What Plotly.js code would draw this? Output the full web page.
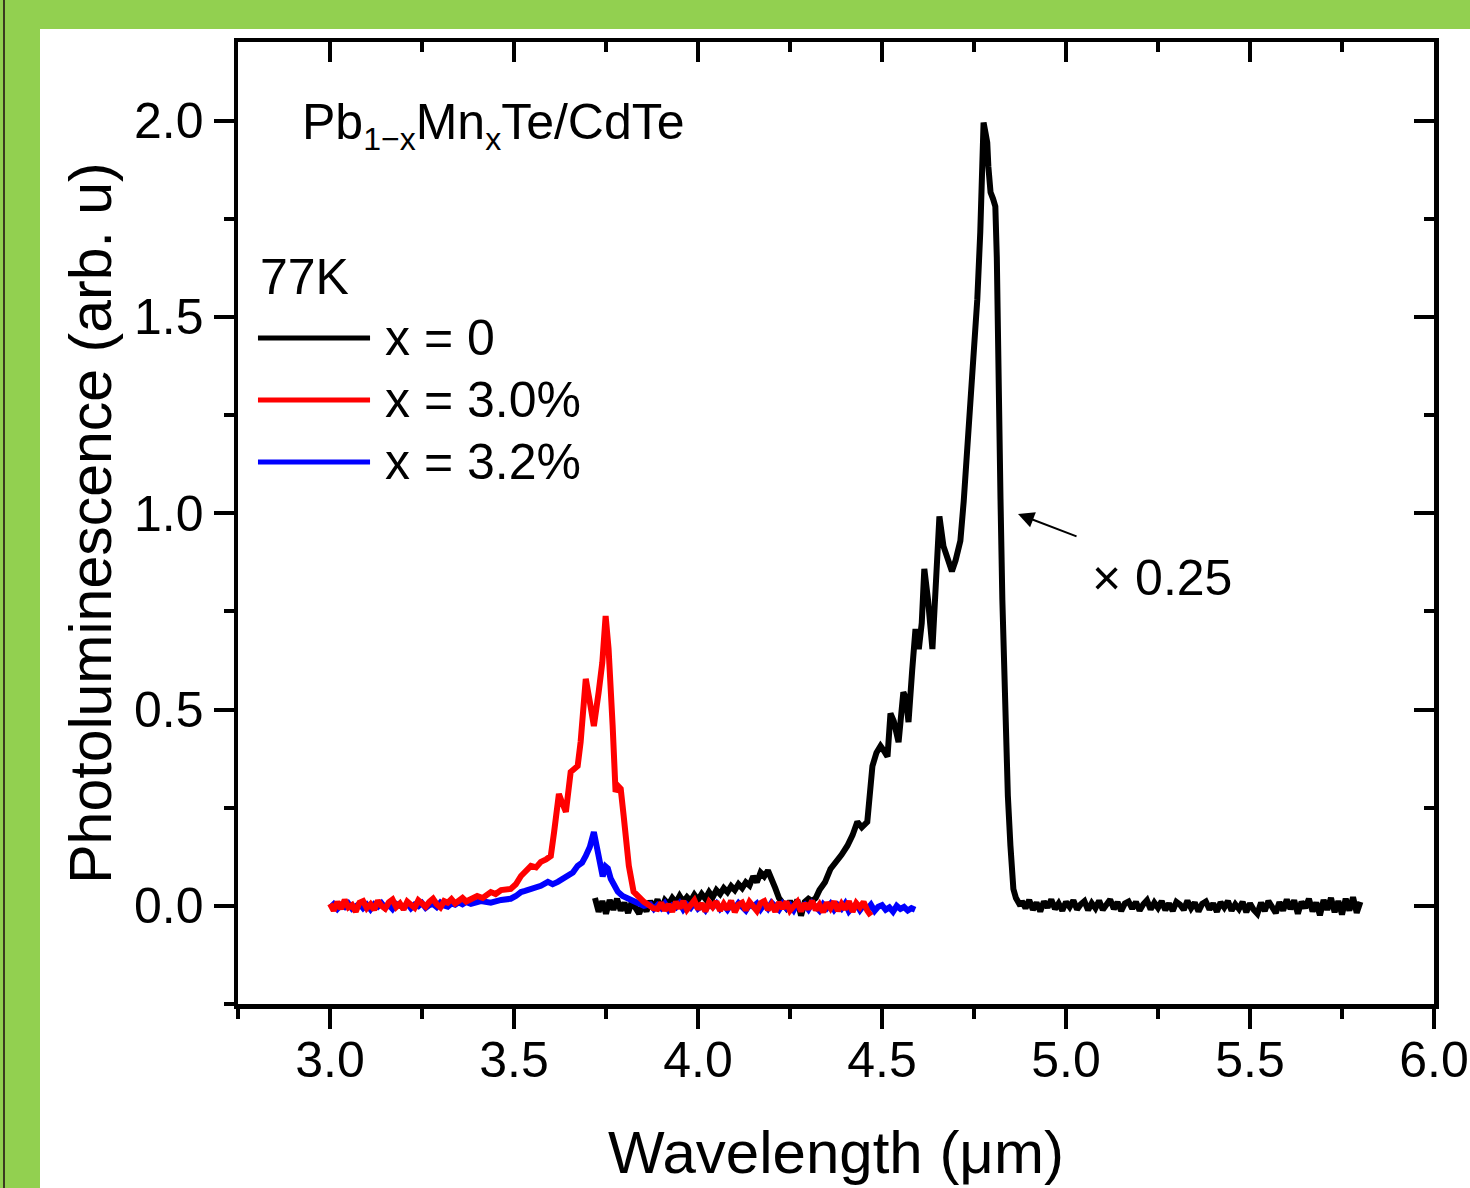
<!DOCTYPE html>
<html>
<head>
<meta charset="utf-8">
<script src="https://cdn.plot.ly/plotly-3.0.1.min.js"></script>
<style>
html,body{margin:0;padding:0;background:#92d050;width:1470px;height:1188px;overflow:hidden;}
#edge{position:absolute;left:3px;top:0;width:2px;height:1188px;background:#3b3b20;}
#chart{position:absolute;left:40px;top:29px;width:1430px;height:1159px;background:#fff;}
</style>
</head>
<body>
<div id="edge"></div>
<div id="chart"></div>
<script>
// x = 0 (scaled x 0.25)
const blackX = [3.72,3.73,3.74,3.75,3.76,3.77,3.78,3.79,3.80,3.81,3.82,3.83,3.84,3.85,3.86,3.87,3.88,3.89,3.90,3.91,3.92,3.93,3.94,3.95,3.96,3.97,3.98,3.99,4.00,4.01,4.02,4.03,4.04,4.05,4.06,4.07,4.08,4.09,4.10,4.11,4.12,4.13,4.14,4.15,4.16,4.17,4.18,4.19,4.20,4.21,4.22,4.23,4.24,4.25,4.26,4.27,4.28,4.29,4.30,4.31,
4.32,4.33,4.345,4.36,4.375,4.39,4.406,4.42,4.433,4.445,4.46,4.468,4.474,4.485,4.496,4.505,4.515,4.523,4.532,4.545,4.558,4.565,4.572,4.582,4.591,4.60,4.608,4.615,4.625,4.637,4.646,4.656,4.667,4.678,4.69,4.70,4.713,4.722,4.732,4.735,4.745,4.759,4.767,4.772,4.776,4.781,4.786,4.789,4.795,4.802,4.808,4.812,4.815,4.818,4.822,4.827,4.832,4.837,4.842,4.849,4.853,4.857,4.864,4.87,4.876,
4.88,4.89,4.90,4.91,4.92,4.93,4.94,4.95,4.96,4.97,4.98,4.99,5.00,5.01,5.02,5.03,5.04,5.05,5.06,5.07,5.08,5.09,5.10,5.11,5.12,5.13,5.14,5.15,5.16,5.17,5.18,5.19,5.20,5.21,5.22,5.23,5.24,5.25,5.26,5.27,5.28,5.29,5.30,5.31,5.32,5.33,5.34,5.35,5.36,5.37,5.38,5.39,5.40,5.41,5.42,5.43,5.44,5.45,5.46,5.47,5.48,5.49,5.50,5.51,5.52,5.53,5.54,5.55,5.56,5.57,5.58,5.59,5.60,5.61,5.62,5.63,5.64,5.65,5.66,5.67,5.68,5.69,5.70,5.71,5.72,5.73,5.74,5.75,5.76,5.77,5.78,5.79,5.80];
const blackY = [0.020,-0.015,0.012,-0.020,0.015,-0.010,0.018,-0.012,0.008,-0.018,0.010,-0.008,-0.020,0.005,-0.014,0.012,-0.006,0.016,-0.010,0.014,0.004,0.020,0.008,0.025,0.010,0.022,0.012,0.028,0.015,0.030,0.018,0.035,0.022,0.040,0.030,0.045,0.035,0.050,0.040,0.055,0.045,0.060,0.052,0.075,0.060,0.085,0.075,0.090,0.070,0.045,0.020,0.010,-0.005,0.012,-0.008,0.015,-0.025,0.010,0.018,0.012,
0.020,0.040,0.060,0.094,0.110,0.130,0.153,0.180,0.214,0.200,0.214,0.280,0.356,0.390,0.407,0.395,0.380,0.490,0.470,0.417,0.544,0.530,0.468,0.600,0.705,0.654,0.720,0.858,0.780,0.654,0.800,0.992,0.916,0.880,0.852,0.880,0.930,1.030,1.160,1.206,1.374,1.545,1.715,1.850,1.995,1.970,1.944,1.883,1.817,1.800,1.781,1.650,1.400,1.200,1.036,0.780,0.600,0.420,0.280,0.153,0.080,0.043,0.020,0.005,0.000,
0.012,-0.006,0.015,-0.010,0.008,-0.014,0.011,-0.004,0.016,-0.008,0.006,-0.012,0.010,-0.003,0.014,-0.009,0.004,0.012,-0.011,0.007,-0.006,0.013,-0.010,0.005,0.016,-0.008,0.009,-0.013,0.006,0.011,-0.007,0.010,-0.012,0.004,0.014,-0.009,0.008,-0.005,0.012,-0.011,0.006,-0.013,0.010,0.003,-0.010,0.013,-0.006,0.008,-0.014,0.005,0.011,-0.009,0.006,-0.015,0.009,-0.004,0.012,-0.012,0.004,-0.008,0.010,-0.016,0.006,-0.010,-0.020,0.008,-0.013,0.012,-0.006,-0.018,0.009,-0.012,0.016,-0.008,0.014,-0.020,0.010,-0.005,0.018,-0.014,0.008,-0.024,0.015,-0.010,0.020,-0.016,0.012,-0.022,0.018,-0.012,0.022,-0.018,0.010];

// x = 3.0%
const redX = [3.00,3.01,3.02,3.03,3.04,3.05,3.06,3.07,3.08,3.09,3.10,3.11,3.12,3.13,3.14,3.15,3.16,3.17,3.18,3.19,3.20,3.21,3.22,3.23,3.24,3.25,3.26,3.27,3.28,3.29,3.30,3.31,3.32,3.33,3.34,3.35,3.36,3.37,
3.383,3.40,3.415,3.437,3.45,3.465,3.491,3.505,3.519,3.53,3.546,3.56,3.573,3.587,3.60,3.609,3.622,3.632,3.641,3.654,3.663,3.673,3.681,3.688,3.695,3.706,3.717,3.73,3.74,3.749,3.757,3.768,3.776,3.783,3.79,3.798,3.805,3.812,3.825,3.84,3.853,3.865,3.878,3.89,
3.90,3.91,3.92,3.93,3.94,3.95,3.96,3.97,3.98,3.99,4.00,4.01,4.02,4.03,4.04,4.05,4.06,4.07,4.08,4.09,4.10,4.11,4.12,4.13,4.14,4.15,4.16,4.17,4.18,4.19,4.20,4.21,4.22,4.23,4.24,4.25,4.26,4.27,4.28,4.29,4.30,4.31,4.32,4.33,4.34,4.35,4.36,4.37,4.38,4.39,4.40,4.41,4.42,4.43,4.44,4.45,4.46,4.47];
const redY = [0.005,-0.012,0.010,-0.008,0.015,-0.004,0.002,-0.015,0.008,0.012,-0.006,0.004,-0.010,0.013,0.000,-0.007,0.009,0.016,-0.003,0.006,-0.009,0.011,0.003,-0.005,0.014,0.007,-0.002,0.010,0.018,0.004,-0.004,0.012,0.008,0.017,0.006,0.013,0.020,0.011,
0.018,0.025,0.020,0.035,0.030,0.040,0.043,0.055,0.076,0.085,0.102,0.098,0.112,0.118,0.127,0.188,0.285,0.260,0.239,0.341,0.350,0.356,0.417,0.500,0.578,0.520,0.458,0.544,0.620,0.738,0.654,0.460,0.290,0.305,0.298,0.229,0.160,0.102,0.036,0.020,0.010,0.003,-0.006,-0.008,
0.008,-0.012,0.004,-0.015,0.010,-0.006,0.012,-0.010,0.002,0.014,-0.008,0.006,-0.014,0.009,-0.003,0.011,-0.012,0.005,-0.009,0.013,-0.016,0.003,0.008,-0.011,0.010,-0.005,-0.013,0.007,0.012,-0.010,0.004,-0.015,0.009,-0.007,0.011,-0.012,0.002,0.010,-0.014,0.006,-0.008,0.013,-0.011,0.003,-0.016,0.008,-0.006,0.011,-0.013,0.005,-0.009,0.012,-0.015,0.007,-0.004,0.010,-0.012,-0.025];

// x = 3.2%
const blueX = [3.00,3.01,3.02,3.03,3.04,3.05,3.06,3.07,3.08,3.09,3.10,3.11,3.12,3.13,3.14,3.15,3.16,3.17,3.18,3.19,3.20,3.21,3.22,3.23,3.24,3.25,3.26,3.27,3.28,3.29,3.30,3.31,3.32,3.33,3.34,3.35,3.36,3.37,
3.383,3.41,3.437,3.465,3.491,3.505,3.519,3.53,3.546,3.56,3.573,3.592,3.605,3.619,3.632,3.646,3.66,3.673,3.685,3.695,3.706,3.717,3.723,3.73,3.736,3.741,3.749,3.755,3.763,3.772,3.782,3.795,3.809,3.83,3.853,
3.87,3.88,3.89,3.90,3.91,3.92,3.93,3.94,3.95,3.96,3.97,3.98,3.99,4.00,4.01,4.02,4.03,4.04,4.05,4.06,4.07,4.08,4.09,4.10,4.11,4.12,4.13,4.14,4.15,4.16,4.17,4.18,4.19,4.20,4.21,4.22,4.23,4.24,4.25,4.26,4.27,4.28,4.29,4.30,4.31,4.32,4.33,4.34,4.35,4.36,4.37,4.38,4.39,4.40,4.41,4.42,4.43,4.44,4.45,4.46,4.47,4.48,4.49,4.50,4.51,4.52,4.53,4.54,4.55,4.56,4.57,4.58,4.59];
const blueY = [-0.005,0.004,-0.008,0.002,-0.003,0.006,-0.007,0.001,0.005,-0.006,0.003,-0.009,0.004,-0.002,0.007,-0.005,0.002,-0.008,0.005,0.000,-0.004,0.006,-0.006,0.003,-0.001,0.007,-0.005,0.002,0.005,-0.003,0.008,0.001,-0.002,0.006,0.003,0.009,0.004,0.010,
0.005,0.012,0.008,0.015,0.018,0.025,0.035,0.038,0.043,0.048,0.051,0.061,0.055,0.061,0.068,0.076,0.085,0.102,0.110,0.127,0.150,0.188,0.160,0.120,0.090,0.075,0.100,0.095,0.069,0.050,0.036,0.025,0.018,0.008,0.000,
0.004,-0.008,0.002,-0.006,0.006,-0.010,0.001,-0.004,0.007,-0.009,0.003,-0.005,0.008,-0.007,0.000,-0.011,0.005,-0.003,0.006,-0.008,0.002,-0.010,0.004,-0.006,0.007,-0.004,-0.012,0.003,-0.002,0.006,-0.009,0.004,-0.007,0.008,-0.003,-0.010,0.005,-0.006,0.002,-0.011,0.006,-0.004,0.003,-0.009,0.007,-0.002,-0.012,0.004,-0.006,0.005,-0.010,0.002,-0.007,0.006,-0.014,-0.003,0.004,-0.011,0.001,-0.008,0.003,-0.013,-0.002,0.002,-0.010,-0.004,-0.015,0.000,-0.008,-0.003,-0.012,-0.006,-0.010];

const seriesNames = ['x = 0','x = 3.0%','x = 3.2%'];
const seriesColors = ['#000000','#ff0000','#0000ff'];
const xTickVals = [3.0,3.5,4.0,4.5,5.0,5.5,6.0];
const yTickVals = [0.0,0.5,1.0,1.5,2.0];

const FONT = "Arial, 'Liberation Sans', Helvetica, sans-serif";
const LW = 6;
const AXW = 4.5;

const traces = [
  {x: blackX, y: blackY, name: seriesNames[0], type: 'scatter', mode: 'lines', line: {color: seriesColors[0], width: LW}, hoverinfo: 'skip'},
  {x: blueX, y: blueY, name: seriesNames[2], type: 'scatter', mode: 'lines', line: {color: seriesColors[2], width: LW}, hoverinfo: 'skip'},
  {x: redX, y: redY, name: seriesNames[1], type: 'scatter', mode: 'lines', line: {color: seriesColors[1], width: LW}, hoverinfo: 'skip'},
  // empty trace so that the mirrored top/right axes are drawn
  {x: [], y: [], xaxis: 'x2', yaxis: 'y2', type: 'scatter', mode: 'lines', showlegend: false, hoverinfo: 'skip'}
];

const XR = [2.75, 6.0], YR = [-0.25, 2.2];
function axisBase(range, tickvals, ticks) {
  return {
    range: range, tickmode: 'array', tickvals: tickvals, tickformat: '.1f',
    ticks: ticks, ticklen: 20, tickwidth: 4, tickcolor: '#000',
    showline: true, linewidth: AXW, linecolor: '#000', zeroline: false, showgrid: false,
    tickfont: {family: FONT, size: 50, color: '#000'},
    minor: {tickmode: 'linear', tick0: 0, dtick: 0.25, ticks: ticks, ticklen: 10, tickwidth: 4, tickcolor: '#000', showgrid: false},
    automargin: false, fixedrange: true
  };
}

const xaxis = Object.assign(axisBase(XR, xTickVals, 'outside'), {
  ticklabelstandoff: -12,
  title: {text: 'Wavelength (μm)', font: {family: FONT, size: 60, color: '#000'}, standoff: 46}
});
const yaxis = Object.assign(axisBase(YR, yTickVals, 'outside'), {
  title: {text: 'Photoluminescence (arb. u)', font: {family: FONT, size: 59, color: '#000'}, standoff: 5}
});
const xaxis2 = Object.assign(axisBase(XR, xTickVals, 'inside'), {overlaying: 'x', side: 'top', anchor: 'y', showticklabels: false});
const yaxis2 = Object.assign(axisBase(YR, yTickVals, 'inside'), {overlaying: 'y', side: 'right', anchor: 'x', showticklabels: false});

// legend drawn in plot-paper coordinates
const legRows = [0.6923, 0.6279, 0.5634];
const legX0 = 0.0167, legX1 = 0.1104, legTextX = 0.1212;
const shapes = [];
const annotations = [];
[0, 1, 2].forEach((i) => {
  shapes.push({type: 'line', xref: 'paper', yref: 'paper', x0: legX0, x1: legX1, y0: legRows[i], y1: legRows[i],
    line: {color: seriesColors[i], width: 5}});
  annotations.push({xref: 'paper', yref: 'paper', x: legTextX, y: legRows[i], xanchor: 'left', yanchor: 'middle',
    text: seriesNames[i], showarrow: false, font: {family: FONT, size: 50, color: '#000'}});
});
annotations.push({xref: 'paper', yref: 'paper', x: 0.0167, y: 0.7557, xanchor: 'left', yanchor: 'middle',
  text: '77K', showarrow: false, font: {family: FONT, size: 50, color: '#000'}});
annotations.push({xref: 'paper', yref: 'paper', x: 0.0518, y: 0.9137, xanchor: 'left', yanchor: 'middle',
  text: 'Pb<sub><span style="font-size:32px;color:#000000">1−x</span></sub>Mn<sub><span style="font-size:32px;color:#000000">x</span></sub>Te/CdTe',
  showarrow: false, font: {family: FONT, size: 50, color: '#000'}});
annotations.push({xref: 'paper', yref: 'paper', x: 0.7124, y: 0.4428, xanchor: 'left', yanchor: 'middle',
  text: '× 0.25', showarrow: false, font: {family: FONT, size: 50, color: '#000'}});
annotations.push({xref: 'paper', yref: 'paper', x: 0.6522, y: 0.5094, text: '', showarrow: true,
  ax: 60, ay: 23, arrowhead: 2, arrowsize: 1.6, arrowwidth: 2, arrowcolor: '#000', standoff: 0});

const layout = {
  width: 1430, height: 1159,
  margin: {l: 198, r: 36, t: 13, b: 184, pad: 0},
  paper_bgcolor: '#ffffff', plot_bgcolor: '#ffffff',
  font: {family: FONT, color: '#000'},
  showlegend: false,
  xaxis: xaxis, yaxis: yaxis, xaxis2: xaxis2, yaxis2: yaxis2,
  shapes: shapes, annotations: annotations
};

Plotly.newPlot('chart', traces, layout, {displayModeBar: false, staticPlot: true});
</script>
</body>
</html>
